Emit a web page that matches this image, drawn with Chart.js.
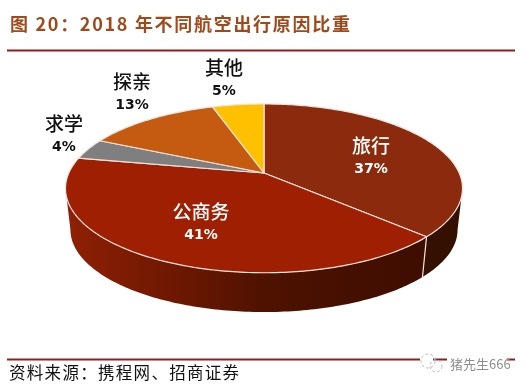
<!DOCTYPE html>
<html>
<head>
<meta charset="utf-8">
<script src="https://cdn.jsdelivr.net/npm/chart.js@4"></script>
<style>
  html, body { margin: 0; padding: 0; background: #fff; }
  #wrap { position: relative; width: 526px; height: 388px; overflow: hidden; }
</style>
</head>
<body>
<div id="wrap"><canvas id="pie" width="526" height="388"></canvas></div>
<script>
const categories = ["旅行", "公商务", "求学", "探亲", "其他"];
const shares = [37, 41, 4, 13, 5];
const sliceColors = ["#8B2A0C", "#9E1F02", "#7F7F7F", "#C55A11", "#FFC000"];

const titleText = "图 20：2018 年不同航空出行原因比重";
const sourceText = "资料来源：携程网、招商证券";
const markText = "猪先生666";

// centre of each label (name line, percent line sits under it)
const labelAt = [[371, 146], [201, 212], [64, 124], [132, 82], [224, 68]];
const labelInk = ["#fff", "#fff", "#111", "#111", "#111"];

const cjk = '"Noto Sans CJK SC", sans-serif';

// the pie is tilted with perspective, so the circle goes through this homography
const tilt = 0.182;
function project(angle, scale, dy) {
  const X = Math.cos(angle);
  const Y = -Math.sin(angle);
  const w = 1 + tilt * Y;
  return [264 + (195.2 * scale * X) / w, 173 + dy - (81.6 * scale * Y) / w];
}

function trace(ctx, from, to, scale, dy, first) {
  const steps = Math.max(2, Math.ceil(Math.abs(to - from) * 60));
  for (let i = 0; i <= steps; i++) {
    const p = project(from + ((to - from) * i) / steps, scale, dy);
    if (i === 0 && first) ctx.moveTo(p[0], p[1]);
    else ctx.lineTo(p[0], p[1]);
  }
}

const pie3d = {
  id: "pie3d",
  beforeDatasetsDraw(chart) {
    const ctx = chart.ctx;
    const arcs = chart.getDatasetMeta(0).data;
    const wallFrom = Math.asin(tilt);
    const wallTo = Math.PI - wallFrom;
    ctx.save();

    // side wall, only the part of the rim that faces the viewer
    arcs.forEach((arc, i) => {
      const a = Math.max(arc.startAngle, wallFrom);
      const b = Math.min(arc.endAngle, wallTo);
      if (b <= a) return;
      const grad = ctx.createLinearGradient(66, 0, 463, 0);
      if (i === 0) {
        grad.addColorStop(0, "#3A1400");
        grad.addColorStop(1, "#331000");
      } else {
        grad.addColorStop(0, "#8F2004");
        grad.addColorStop(0.27, "#6E1802");
        grad.addColorStop(0.5, "#4E1200");
        grad.addColorStop(1, "#3A0C00");
      }
      ctx.beginPath();
      trace(ctx, a, b, 1, 0, true);
      trace(ctx, b, a, 0.975, 41.8, false);
      ctx.closePath();
      ctx.fillStyle = grad;
      ctx.fill();
    });

    // white seam between the two walls
    const seam = arcs[0].endAngle;
    const s0 = project(seam, 1, 0);
    const s1 = project(seam, 0.975, 41.8);
    ctx.beginPath();
    ctx.moveTo(s0[0], s0[1]);
    ctx.lineTo(s1[0], s1[1]);
    ctx.strokeStyle = "#F3E4DC";
    ctx.lineWidth = 1.2;
    ctx.stroke();

    // top face
    arcs.forEach((arc) => {
      ctx.beginPath();
      const c = project(0, 0, 0);
      ctx.moveTo(c[0], c[1]);
      trace(ctx, arc.startAngle, arc.endAngle, 1, 0, false);
      ctx.closePath();
      ctx.fillStyle = arc.options.backgroundColor;
      ctx.fill();
      ctx.strokeStyle = arc.options.borderColor;
      ctx.lineWidth = arc.options.borderWidth;
      ctx.lineJoin = "round";
      ctx.stroke();
    });

    // slice labels
    ctx.textAlign = "center";
    ctx.textBaseline = "middle";
    categories.forEach((name, i) => {
      ctx.fillStyle = labelInk[i];
      ctx.font = "500 19px " + cjk;
      ctx.fillText(name, labelAt[i][0], labelAt[i][1]);
      ctx.font = 'bold 14px "DejaVu Sans", sans-serif';
      ctx.fillText(shares[i] + "%", labelAt[i][0], labelAt[i][1] + 23);
    });
    ctx.restore();
    return false;
  },
  afterDraw(chart) {
    const ctx = chart.ctx;
    ctx.save();

    // header and footer rules
    ctx.fillStyle = "#8E1F1F";
    ctx.fillRect(7, 49.5, 508, 2);
    ctx.fillRect(7, 358.5, 508, 2);

    ctx.textBaseline = "middle";
    ctx.textAlign = "left";
    ctx.fillStyle = "#A04A1C";
    ctx.font = "bold 18px " + cjk;
    ctx.letterSpacing = "1.7px";
    ctx.fillText(titleText, 10, 24);

    ctx.fillStyle = "#111";
    ctx.font = "16.5px " + cjk;
    ctx.letterSpacing = "1.3px";
    ctx.fillText(sourceText, 9, 373);

    // watermark knocks the footer rule out behind the icon and the text
    ctx.letterSpacing = "0px";
    ctx.fillStyle = "#fff";
    ctx.fillRect(420, 356, 13, 6);
    ctx.fillRect(447, 356, 60, 6);
    ctx.fillStyle = "#8E8E8E";
    ctx.font = "13px " + cjk;
    ctx.fillText(markText, 450, 364);
    ctx.strokeStyle = "#BDBDBD";
    ctx.lineWidth = 1;
    ctx.setLineDash([3, 2]);
    ctx.beginPath();
    ctx.arc(428, 361, 7, 0, Math.PI * 2);
    ctx.stroke();
    ctx.beginPath();
    ctx.arc(436, 366, 6, 0, Math.PI * 2);
    ctx.stroke();
    ctx.restore();
  },
};

new Chart(document.getElementById("pie"), {
  type: "pie",
  plugins: [pie3d],
  data: {
    labels: categories,
    datasets: [
      {
        data: shares,
        backgroundColor: sliceColors,
        borderColor: "#F3E4DC",
        borderWidth: 1.2,
      },
    ],
  },
  options: {
    responsive: false,
    animation: false,
    plugins: { legend: { display: false }, tooltip: { enabled: false } },
  },
});
</script>
</body>
</html>
